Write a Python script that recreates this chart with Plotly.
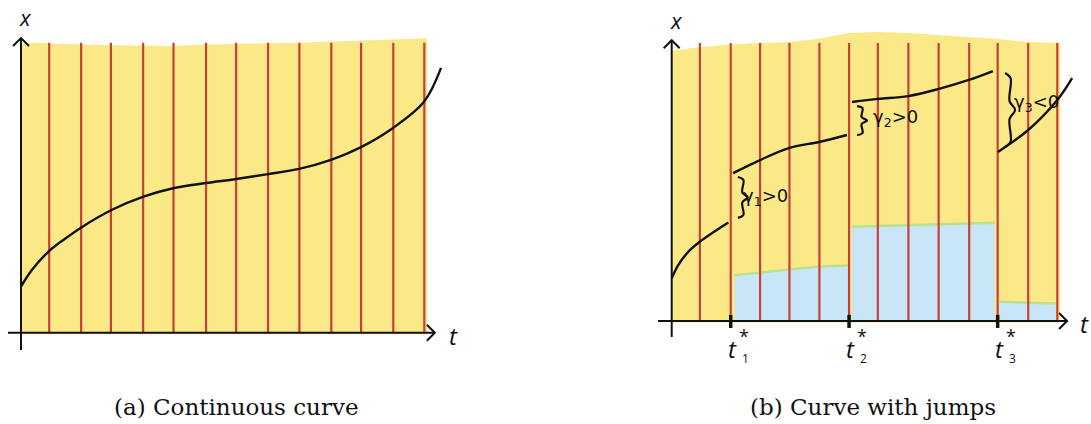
"""Hand-drawn style sketch: continuous curve vs. curve with jumps."""

import plotly.graph_objects as go

_YELLOW = "#FBE987"
_RED    = "#C4413A"
_BLUE   = "#C8E6F8"
_GREEN  = "#BCE08E"
_INK    = "#111111"
_HAND   = "Open Sans, sans-serif"
_GREEK  = "DejaVu Sans, sans-serif"
_SERIF  = "DejaVu Serif, serif"

# ── Panel (a): continuous curve ──────────────────────────────────────────────
A_GRID_T   = [0.91, 1.94, 2.90, 3.94, 4.92, 5.97, 6.94, 7.97, 8.98, 10.01, 10.97, 12.01, 13.01]
A_GRID_TOP = 10.0
A_CURVE_T  = [0.0, 0.35, 0.88, 1.42, 1.96, 2.92, 3.95, 4.94, 5.97, 6.94, 7.97, 8.97, 10.0, 10.97, 12.0, 13.0, 13.55]
A_CURVE_X  = [1.59, 2.16, 2.79, 3.24, 3.64, 4.23, 4.69, 4.99, 5.16, 5.30, 5.47, 5.65, 5.96, 6.40, 7.06, 7.96, 9.13]
A_FILL_T   = [0.0, 0.39, 2.55, 4.7, 6.84, 9.0, 11.16, 13.1]
A_FILL_TOP = [9.98, 10.0, 9.92, 9.89, 9.96, 10.0, 10.07, 10.15]

# ── Panel (b): curve with jumps ──────────────────────────────────────────────
B_GRID_T   = [0.95, 1.99, 2.98, 3.97, 4.98, 5.98, 6.95, 7.98, 9.0, 10.03, 10.99, 12.02, 13.0]
B_GRID_TOP = 10.0
B_FILL_T   = [0.0, 0.95, 1.99, 2.98, 3.99, 4.97, 5.98, 6.95, 7.98, 9.0, 10.03, 11.0, 12.02, 13.1]
B_FILL_TOP = [9.72, 9.85, 9.95, 10.0, 10.04, 10.15, 10.36, 10.4, 10.36, 10.29, 10.22, 10.14, 10.04, 10.0]

B_SEGMENTS = [
    ([0.0, 0.22, 0.56, 0.95, 1.91],             [1.54, 2.01, 2.49, 2.85, 3.54]),
    ([2.07, 2.98, 3.95, 4.97, 5.91],            [5.32, 5.79, 6.22, 6.44, 6.69]),
    ([6.08, 6.96, 7.97, 9.01, 10.02, 10.83],    [7.88, 7.99, 8.09, 8.35, 8.67, 8.99]),
    ([11.0, 12.02, 13.0, 13.5],                 [6.08, 6.87, 7.95, 8.74]),
]

B_BLUE = [
    ([2.12, 4.89, 5.95],   [1.65, 1.95, 2.0]),
    ([6.07, 8.5, 10.9],    [3.39, 3.45, 3.53]),
    ([11.04, 12.0, 12.96], [0.69, 0.67, 0.63]),
]

JUMP_T      = [1.99, 5.98, 10.99]
JUMP_LABELS = ["1", "2", "3"]
BRACE_T     = [2.23, 6.25, 11.24]
BRACE_TOP   = [5.18, 7.73, 8.92]
BRACE_BOT   = [3.71, 6.69, 6.26]
GAMMA_T     = [3.15, 7.56, 12.3]
GAMMA_X     = [4.46, 7.30, 7.84]
GAMMA_TEXT  = ["γ<sub>1</sub>>0", "γ<sub>2</sub>>0", "γ<sub>3</sub><0"]

CAPTIONS   = ["(a) Continuous curve", "(b) Curve with jumps"]
CAPTION_PX = [236, 873]  # horizontal centres, px

# axis extents (t from, t to, x from, x to) and pixel sizes of one unit
A_AXES = dict(t0=-0.42, t1=13.35, x0=-0.6, x1=10.16, pt=31.0, px=29.0)
B_AXES = dict(t0=-0.46, t1=13.33, x0=-0.58, x1=10.1, pt=29.66, px=27.8)

fig = go.Figure()


def line(xs, ys, color, width, ax, shape="linear"):
    fig.add_trace(go.Scatter(
        x=xs, y=ys, mode="lines",
        line=dict(color=color, width=width, shape=shape),
        xaxis=ax[0], yaxis=ax[1], hoverinfo="skip", showlegend=False,
    ))


def fill(xs, ys, color, ax):
    fig.add_trace(go.Scatter(
        x=xs, y=ys, mode="lines", fill="toself", fillcolor=color,
        line=dict(width=0), xaxis=ax[0], yaxis=ax[1],
        hoverinfo="skip", showlegend=False,
    ))


def axes(ext, ax):
    h = 8  # arrowhead size, px
    dt, dx = h / ext["pt"], h / ext["px"]
    line([0, 0], [ext["x0"], ext["x1"]], _INK, 2, ax)
    line([ext["t0"], ext["t1"]], [0, 0], _INK, 2, ax)
    line([-dt, 0, dt], [ext["x1"] - dx, ext["x1"], ext["x1"] - dx], _INK, 2, ax)
    line([ext["t1"] - dt, ext["t1"], ext["t1"] - dt], [dx, 0, -dx], _INK, 2, ax)


def brace(t, top, bot, ext, ax):
    w = 10 / ext["pt"]
    h = top - bot
    us = [0, 0.55, 0.45, 1.0, 0.45, 0.55, 0]
    vs = [0, 0.07, 0.38, 0.5, 0.62, 0.93, 1]
    line([t + u * w for u in us], [top - v * h for v in vs], _INK, 2.2, ax, "spline")


# ── draw panel (a) ───────────────────────────────────────────────────────────
axA = ("x", "y")
fill([A_FILL_T[0]] + A_FILL_T + [A_FILL_T[-1]],
     [-0.05] + A_FILL_TOP + [-0.05], _YELLOW, axA)
for t in A_GRID_T:
    line([t, t], [0, A_GRID_TOP], _RED, 2.2, axA)
line(A_CURVE_T, A_CURVE_X, _INK, 2.4, axA, "spline")
axes(A_AXES, axA)

# ── draw panel (b) ───────────────────────────────────────────────────────────
axB = ("x2", "y2")
fill([B_FILL_T[0]] + B_FILL_T + [B_FILL_T[-1]],
     [-0.05] + B_FILL_TOP + [-0.05], _YELLOW, axB)
for ts, tops in B_BLUE:
    fill([ts[0]] + ts + [ts[-1]], [0] + tops + [0], _BLUE, axB)
    line(ts, tops, _GREEN, 2.5, axB)
for t in B_GRID_T:
    line([t, t], [0, B_GRID_TOP], _RED, 2.2, axB)
for ts, xs in B_SEGMENTS:
    line(ts, xs, _INK, 2.4, axB, "spline")
axes(B_AXES, axB)
for t in JUMP_T:
    line([t, t], [0.22, -0.25], _INK, 3.5, axB)
for t, top, bot in zip(BRACE_T, BRACE_TOP, BRACE_BOT):
    brace(t, top, bot, B_AXES, axB)

annotations = []
for t, x, txt in zip(GAMMA_T, GAMMA_X, GAMMA_TEXT):
    annotations.append(dict(x=t, y=x, xref="x2", yref="y2", text=txt, showarrow=False,
                            font=dict(family=_GREEK, size=18, color=_INK)))
for t, lbl in zip(JUMP_T, JUMP_LABELS):
    annotations.append(dict(x=t + 0.05, y=-1.0, xref="x2", yref="y2", text="<i>t</i>", showarrow=False,
                            font=dict(family=_HAND, size=24, color=_INK)))
    annotations.append(dict(x=t + 0.45, y=-0.55, xref="x2", yref="y2", text="*", showarrow=False,
                            font=dict(family=_HAND, size=18, color=_INK)))
    annotations.append(dict(x=t + 0.5, y=-1.35, xref="x2", yref="y2", text=lbl, showarrow=False,
                            font=dict(family=_HAND, size=12, color=_INK)))

# axis letters
for ax, ext in (("", A_AXES), ("2", B_AXES)):
    annotations.append(dict(x=0.15, y=ext["x1"] + 0.72, xref="x" + ax, yref="y" + ax,
                            text="<i>x</i>", showarrow=False,
                            font=dict(family=_HAND, size=22, color=_INK)))
    annotations.append(dict(x=ext["t1"] + 0.6, y=-0.1, xref="x" + ax, yref="y" + ax,
                            text="<i>t</i>", showarrow=False,
                            font=dict(family=_HAND, size=24, color=_INK)))

# captions
for cx, txt in zip(CAPTION_PX, CAPTIONS):
    annotations.append(dict(x=cx / 1091, y=(424 - 407) / 424, xref="paper", yref="paper",
                            xanchor="center", yanchor="middle",
                            text=txt, showarrow=False,
                            font=dict(family=_SERIF, size=23, color=_INK)))

hidden = dict(visible=False, fixedrange=True)
fig.update_layout(
    width=1091, height=424,
    margin=dict(l=0, r=0, t=0, b=0),
    paper_bgcolor="white", plot_bgcolor="white",
    # pixel -> unit mapping: panel (a) t=0 at px 21, x=0 at px 332.7
    xaxis=dict(domain=[0, 0.5], range=[-21 / 31.0, (545.5 - 21) / 31.0], **hidden),
    yaxis=dict(domain=[0, 1], range=[(332.7 - 424) / 29.0, 332.7 / 29.0], **hidden),
    # panel (b) t=0 at px 671.7, x=0 at px 321
    xaxis2=dict(domain=[0.5, 1], range=[(545.5 - 671.7) / 29.66, (1091 - 671.7) / 29.66], **hidden),
    yaxis2=dict(domain=[0, 1], range=[(321 - 424) / 27.8, 321 / 27.8], anchor="x2", **hidden),
    annotations=annotations,
)

fig.write_html("out.html", config={"displayModeBar": False},
               post_script="document.body.style.margin='0';")
